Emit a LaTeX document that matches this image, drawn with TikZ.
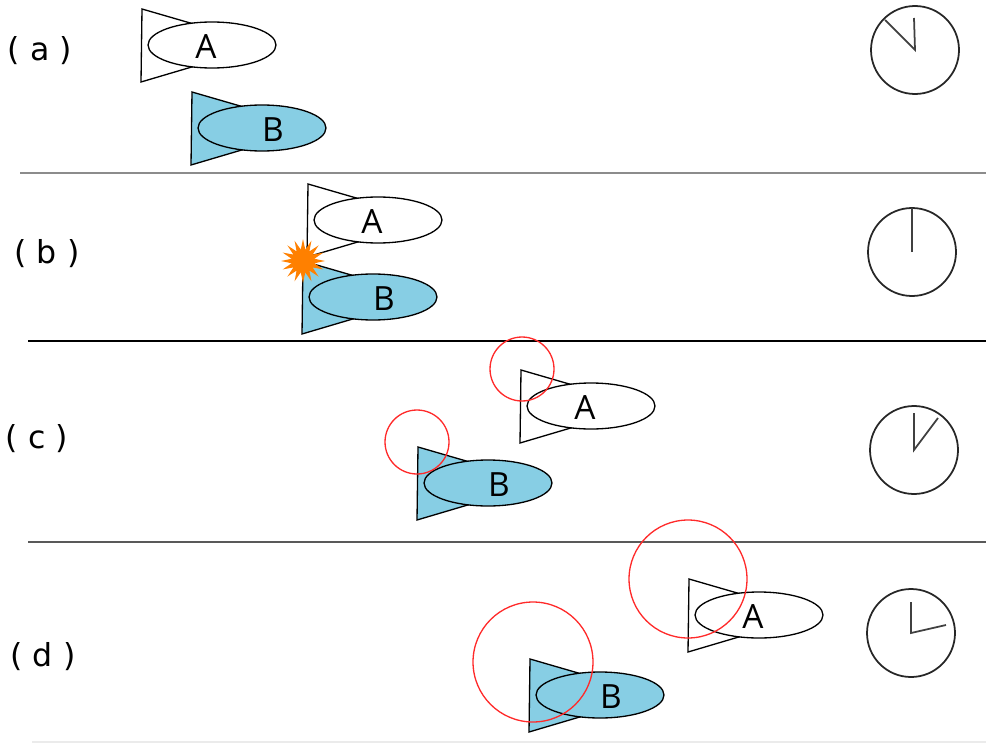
\documentclass[tikz,border=0pt]{standalone}
\usepackage{fontspec}
\setmainfont{DejaVu Sans}
\newfontfamily\tagfont{Open Sans}
\usetikzlibrary{shapes.geometric,calc}

\definecolor{fishblue}{HTML}{87CEE4}
\definecolor{flash}{HTML}{FF8000}
\definecolor{ring}{HTML}{FF2A2A}

\tikzset{
  fishline/.style={draw=black, line width=0.75pt, line join=miter},
  body/.style={ellipse, draw=black, line width=0.75pt, minimum width=2.56cm,
    minimum height=0.92cm, inner sep=0pt},
  tag/.style={inner sep=0pt, font=\tagfont\fontsize{19}{19}\selectfont},
  rowlabel/.style={inner sep=0pt, font=\fontsize{18}{18}\selectfont},
  dial/.style={draw=black!85, line width=1pt},
  hand/.style={draw=black!75, line width=1pt},
  reach/.style={draw=ring, line width=0.75pt},
  divider/.style={line width=#1},
}

% a fish: triangle tail behind an elliptic body with a letter
% #1 name, #2 x, #3 y, #4 fill, #5 letter, #6 letter offset
\newcommand\fish[6]{%
  \draw[fishline, fill=#4] (#2-70,#3-36) -- (#2+54,#3) -- (#2-71,#3+37) -- cycle;
  \node[body, fill=#4] (#1) at (#2,#3) {};
  \node[tag] (#1-tag) at (#2+#6,#3+2) {#5};
}

\begin{document}
\begin{tikzpicture}[x=0.02cm, y=-0.02cm]
\useasboundingbox (0,0) rectangle (986,743);

% row labels
\node[rowlabel] (la) at (40,51) {( a )};
\node[rowlabel] (lb) at (47,254) {( b )};
\node[rowlabel] (lc) at (37,439) {( c )};
\node[rowlabel] (ld) at (43,657) {( d )};

% dividers
\coordinate (d1s) at (20,173);  \coordinate (d1e) at (986,173);
\coordinate (d2s) at (28,341);  \coordinate (d2e) at (986,341);
\coordinate (d3s) at (28,542);  \coordinate (d3e) at (986,542);
\coordinate (d4s) at (32,742);  \coordinate (d4e) at (986,742);
\draw[divider=1.7pt, draw=black!45] (d1s) -- (d1e);
\draw[divider=1.1pt, draw=black] (d2s) -- (d2e);
\draw[divider=1.2pt, draw=black!65] (d3s) -- (d3e);
\draw[divider=1pt, draw=black!8] (d4s) -- (d4e);

% (a)
\fish{Aa}{212}{45}{white}{A}{-6}
\fish{Ba}{262}{128}{fishblue}{B}{11}

% (b) collision
\fish{Ab}{378}{220}{white}{A}{-6}
\fish{Bb}{373}{297}{fishblue}{B}{11}
\node[star, star points=16, star point ratio=1.9, minimum size=0.88cm,
  inner sep=0pt, fill=flash] (hit) at (303,261) {};

% (c)
\fish{Ac}{591}{406}{white}{A}{-6}
\fish{Bc}{488}{483}{fishblue}{B}{11}
\node[circle, reach, minimum size=1.28cm, inner sep=0pt] (rAc) at (522,369) {};
\node[circle, reach, minimum size=1.28cm, inner sep=0pt] (rBc) at (417,442) {};

% (d)
\fish{Ad}{759}{615}{white}{A}{-6}
\fish{Bd}{600}{695}{fishblue}{B}{11}
\node[circle, reach, minimum size=2.36cm, inner sep=0pt] (rAd) at (688,579) {};
\node[circle, reach, minimum size=2.40cm, inner sep=0pt] (rBd) at (533,662) {};

% clocks
\coordinate (ka) at (915,50);
\draw[dial] (ka) circle[radius=44];
\coordinate (ka1) at (914,18);  \coordinate (ka2) at (885,20);
\draw[hand] (ka1) -- (ka) -- (ka2);

\coordinate (kb) at (912,252);
\draw[dial] (kb) circle[radius=44];
\coordinate (kb1) at (912,208);
\draw[hand] (kb) -- (kb1);

\coordinate (kc) at (914,450);
\draw[dial] (kc) circle[radius=44];
\coordinate (kc1) at (914,413);  \coordinate (kc2) at (938,418);
\draw[hand] (kc1) -- (kc) -- (kc2);

\coordinate (kd) at (911,633);
\draw[dial] (kd) circle[radius=44];
\coordinate (kd1) at (911,602);  \coordinate (kd2) at (946,625);
\draw[hand] (kd1) -- (kd) -- (kd2);
\end{tikzpicture}
\end{document}
